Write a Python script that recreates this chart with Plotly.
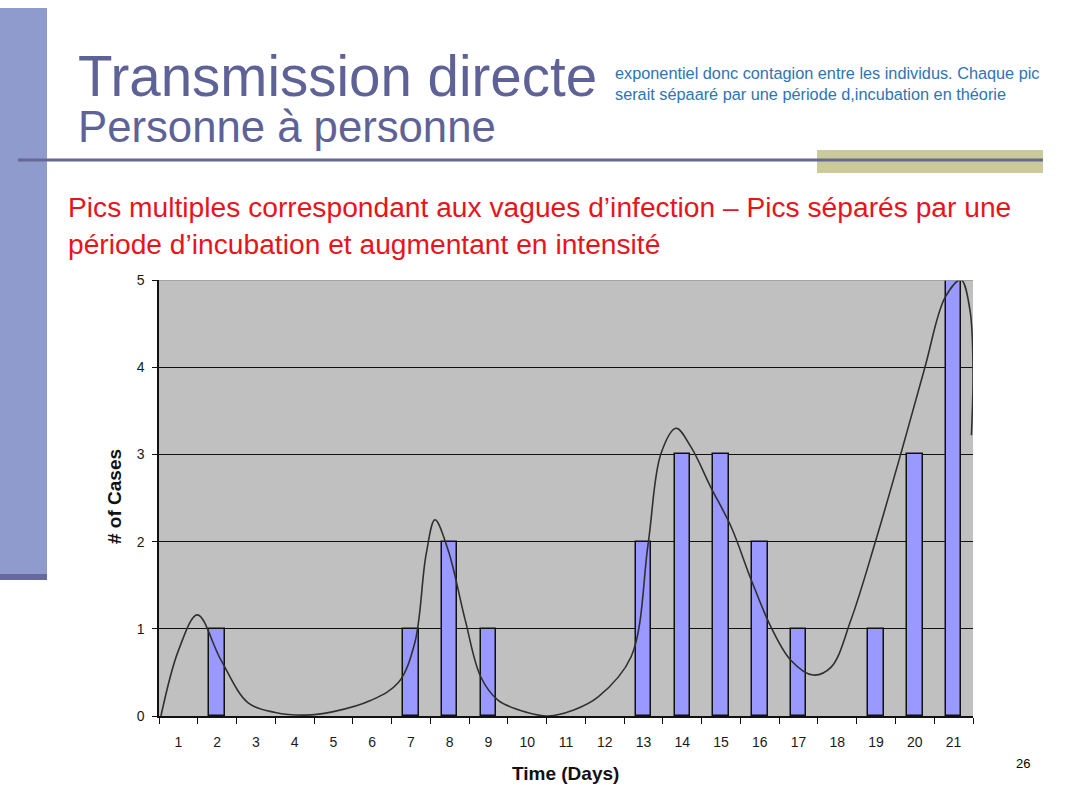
import plotly.graph_objects as go

# ---------------- data ----------------
days = list(range(1, 22))
day_labels = [str(d) for d in days]
cases = [0, 1, 0, 0, 0, 0, 1, 2, 1, 0, 0, 0, 2, 3, 3, 2, 1, 0, 1, 3, 5]

# smoothed trend curve (x in days, y in cases)
curve_x = [0.55, 1.0, 1.49, 2.1, 2.8, 3.5, 4.27, 5.0, 5.97, 6.67, 7.1, 7.39, 7.62,
           7.96, 8.4, 8.8, 9.25, 10.0, 10.54, 11.2, 11.83, 12.68, 13.12, 13.45,
           13.84, 14.23, 14.74, 15.26, 15.78, 16.29, 16.8, 17.37, 17.84, 18.35,
           18.97, 19.64, 20.26, 20.78, 21.19, 21.42, 21.5, 21.46]
curve_y = [0.0, 0.75, 1.16, 0.64, 0.15, 0.04, 0.01, 0.05, 0.18, 0.38, 0.84, 1.85, 2.25,
           1.9, 1.1, 0.45, 0.18, 0.04, 0.0, 0.07, 0.22, 0.68, 1.98, 3.01,
           3.3, 3.08, 2.62, 2.17, 1.56, 1.02, 0.64, 0.47, 0.56, 1.1,
           1.98, 3.01, 4.0, 4.8, 5.0, 4.66, 3.97, 3.22]

y_ticks = [0, 1, 2, 3, 4, 5]

title_main = "Transmission directe"
title_sub = "Personne à personne"
note_text = ("exponentiel donc contagion entre les individus. Chaque pic<br>"
             "serait sépaaré par une période d,incubation en théorie")
red_text = ("Pics multiples correspondant aux vagues d’infection – Pics séparés par une<br>"
            "période d’incubation et augmentant en intensité")
page_no = "26"

# ---------------- layout helpers ----------------
W, H = 1087, 808
TOP, SPAN = 8, 792   # vertical band in which the page is displayed


def px(x):
    return x / W


def py(y):
    return min(1.0, 1 - (y - TOP) / SPAN)


fig = go.Figure()

fig.add_trace(go.Bar(
    x=days, y=cases, width=0.4,
    marker=dict(color="#9999FF",
                line=dict(color="#111111", width=[1.5 if c > 0 else 0 for c in cases])),
    showlegend=False, hoverinfo="x+y",
))

fig.add_trace(go.Scatter(
    x=curve_x, y=curve_y, mode="lines",
    line=dict(color="#303030", width=1.6, shape="spline", smoothing=1.0),
    showlegend=False, hoverinfo="skip",
))

tick_font = dict(family="Liberation Sans, Arial", size=14, color="#1A1A1A")

fig.update_layout(
    width=W, height=H,
    autosize=False,
    margin=dict(l=0, r=0, t=0, b=0),
    paper_bgcolor="white",
    plot_bgcolor="#C0C0C0",
    bargap=0,
    xaxis=dict(
        domain=[px(159), px(973)],
        range=[0.5, 21.5],
        tickmode="array", tickvals=days, ticktext=day_labels,
        ticks="outside", ticklen=12, tickcolor="rgba(0,0,0,0)",
        minor=dict(tick0=0.5, dtick=1, ticks="outside", ticklen=6,
                   tickcolor="#111111", tickwidth=1.2, showgrid=False),
        showline=True, linecolor="#111111", linewidth=1.5,
        showgrid=False, zeroline=False,
        tickfont=tick_font,
        fixedrange=True,
    ),
    yaxis=dict(
        domain=[py(716), py(280)],
        range=[0, 5],
        tickmode="array", tickvals=y_ticks,
        ticks="outside", ticklen=5, tickcolor="#111111", tickwidth=1.2,
        ticklabelstandoff=5,
        showline=True, linecolor="#111111", linewidth=1.5,
        showgrid=True, gridcolor="#111111", gridwidth=1.3,
        zeroline=False,
        tickfont=tick_font,
        fixedrange=True,
    ),
    font=dict(family="Liberation Sans, Arial, sans-serif"),
)

shapes = [
    # left sidebar
    dict(type="rect", xref="paper", yref="paper", x0=px(0), x1=px(47), y0=py(0), y1=py(574),
         fillcolor="#8E9BCC", line=dict(width=0)),
    dict(type="rect", xref="paper", yref="paper", x0=px(0), x1=px(47), y0=py(574), y1=py(580),
         fillcolor="#67699C", line=dict(width=0)),
    # olive block
    dict(type="rect", xref="paper", yref="paper", x0=px(817), x1=px(1043), y0=py(150), y1=py(173),
         fillcolor="#CBCA9B", line=dict(width=0)),
    # horizontal rule
    dict(type="line", xref="paper", yref="paper", x0=px(18), x1=px(1043), y0=py(160), y1=py(160),
         line=dict(color="#666894", width=3)),
    # lighter top border of the plot area
    dict(type="line", xref="x domain", yref="y", x0=0, x1=1, y0=5, y1=5,
         line=dict(color="#9A9A9A", width=1.5)),
]
fig.update_layout(shapes=shapes)

annotations = [
    dict(text=title_main, x=px(76), y=py(76), xanchor="left", yanchor="middle",
         font=dict(family="Liberation Sans, Arial", size=56.5, color="#5E6297")),
    dict(text=title_sub, x=px(76), y=py(126), xanchor="left", yanchor="middle",
         font=dict(family="Liberation Sans, Arial", size=43.7, color="#5E6297")),
    dict(text=note_text, x=px(613), y=py(83.5), xanchor="left", yanchor="middle", align="left",
         font=dict(family="Liberation Sans, Arial", size=16.3, color="#2E74B5")),
    dict(text=red_text, x=px(66), y=py(225), xanchor="left", yanchor="middle", align="left",
         font=dict(family="Liberation Sans, Arial", size=28.2, color="#E8141C")),
    dict(text="<b># of Cases</b>", x=px(114), y=py(497), xanchor="center", yanchor="middle",
         textangle=-90,
         font=dict(family="Liberation Sans, Arial", size=19, color="#111111")),
    dict(text="<b>Time (Days)</b>", x=px(565), y=py(773), xanchor="center", yanchor="middle",
         font=dict(family="Liberation Sans, Arial", size=19, color="#111111")),
    dict(text=page_no, x=px(1023), y=py(763), xanchor="center", yanchor="middle",
         font=dict(family="Liberation Sans, Arial", size=13, color="#000000")),
]
for a in annotations:
    a.update(xref="paper", yref="paper", showarrow=False)
fig.update_layout(annotations=annotations)

fig.write_html(
    "out.html",
    config={"displayModeBar": False, "responsive": False},
    post_script=("document.documentElement.style.margin='0';"
                 "document.body.style.margin='0';"
                 "document.body.style.overflow='hidden';"),
)
